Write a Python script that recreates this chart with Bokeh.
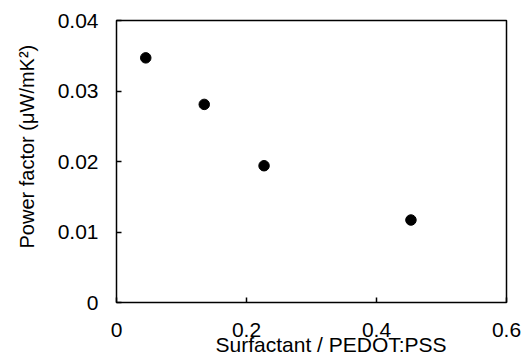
from bokeh.plotting import figure
from bokeh.models import Range1d, FixedTicker, CustomJSTickFormatter, Title
from bokeh.embed import file_html
from bokeh.resources import INLINE

x_ratio = [0.045, 0.135, 0.227, 0.453]
power_factor = [0.0347, 0.0281, 0.0194, 0.0117]
x_ticks = [0, 0.2, 0.4, 0.6]
y_ticks = [0, 0.01, 0.02, 0.03, 0.04]

p = figure(width=522, height=355, output_backend="svg", toolbar_location=None,
           x_range=Range1d(0, 0.6), y_range=Range1d(0, 0.04),
           min_border_left=116, min_border_top=20, min_border_right=16, min_border_bottom=53)
p.frame_width = 390
p.frame_height = 282
p.grid.visible = False
p.outline_line_color = "black"
p.outline_line_width = 1.5
p.outline_line_alpha = 1.0

p.scatter(x_ratio, power_factor, size=10.5, color="black")

fmt = CustomJSTickFormatter(code="return tick == 0 ? '0' : tick.toFixed(tick < 0.1 ? 2 : 1);")
for ax, ticks in ((p.xaxis[0], x_ticks), (p.yaxis[0], y_ticks)):
    ax.ticker = FixedTicker(ticks=ticks)
    ax.formatter = fmt
    ax.minor_tick_line_color = None
    ax.major_tick_in = 5
    ax.major_tick_out = 0
    ax.major_tick_line_width = 1.5
    ax.major_tick_line_color = "black"
    ax.axis_line_color = None
    ax.major_label_text_font = "Liberation Sans"
    ax.major_label_text_font_size = "21px"
    ax.major_label_text_color = "black"

p.xaxis.major_label_standoff = 20
p.yaxis.major_label_standoff = 18

xtitle = Title(text="Surfactant / PEDOT:PSS", align="left", offset=99, standoff=-14,
               vertical_align="top", text_font="Liberation Sans", text_font_size="21px",
               text_font_style="normal", text_color="black")
ytitle = Title(text="Power factor (μW/mK²)", align="left", offset=54, standoff=30,
               vertical_align="top", text_font="Liberation Sans", text_font_size="20px",
               text_font_style="normal", text_color="black")
p.add_layout(xtitle, "below")
p.add_layout(ytitle, "left")

open("out.html", "w").write(file_html(p, INLINE))
